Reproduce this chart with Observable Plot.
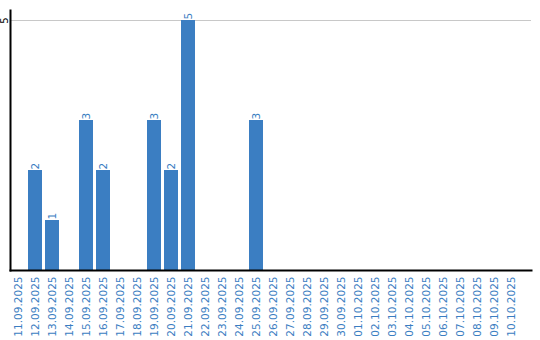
<!DOCTYPE html>
<html><head><meta charset="utf-8">
<script src="https://cdn.jsdelivr.net/npm/d3@7"></script>
<script src="https://cdn.jsdelivr.net/npm/@observablehq/plot@0.6"></script>
<style>body{margin:0;background:#fff}</style>
</head><body><div id="chart"></div>
<script>
const dates = ["11.09.2025","12.09.2025","13.09.2025","14.09.2025","15.09.2025","16.09.2025","17.09.2025","18.09.2025","19.09.2025","20.09.2025","21.09.2025","22.09.2025","23.09.2025","24.09.2025","25.09.2025","26.09.2025","27.09.2025","28.09.2025","29.09.2025","30.09.2025","01.10.2025","02.10.2025","03.10.2025","04.10.2025","05.10.2025","06.10.2025","07.10.2025","08.10.2025","09.10.2025","10.10.2025"];
const values = [0,2,1,0,3,2,0,0,3,2,5,0,0,0,3,0,0,0,0,0,0,0,0,0,0,0,0,0,0,0];
const yTicks = [5];
const data = dates.map((d,i)=>({date:d, value:values[i]}));
const nonzero = data.filter(d=>d.value>0);
const blue = "#3b7ec2";
const chart = Plot.plot({
  width:540, height:340,
  marginTop:10, marginBottom:70, marginLeft:10, marginRight:9,
  style:{fontFamily:"DejaVu Sans", fontSize:"10.5px", background:"#fff"},
  x:{type:"band", domain:dates, range:[11,531], paddingInner:0.1765, paddingOuter:0, align:0, round:true, axis:null},
  y:{domain:[0,5.2], axis:null},
  marks:[
    Plot.ruleY(yTicks,{stroke:"#c8c8c8", strokeWidth:1}),
    Plot.barY(data,{x:"date", y:"value", fill:blue}),
    Plot.text(nonzero,{x:"date", y:"value", text:d=>String(d.value), rotate:-90, textAnchor:"start", dy:-1, fill:blue, fontSize:10.5}),
    Plot.axisX({tickSize:0, tickRotate:-90, tickPadding:6, fill:blue, fontSize:10.5, label:null}),
    Plot.axisY({ticks:yTicks, tickFormat:d=>String(d), tickSize:0, tickRotate:-90, tickPadding:3, textAnchor:"middle", fill:"#000", fontSize:10, label:null}),
    Plot.frame({anchor:"left", stroke:"#000", strokeWidth:2}),
    Plot.frame({anchor:"bottom", stroke:"#000", strokeWidth:2})
  ]
});
document.getElementById("chart").append(chart);
</script></body></html>
